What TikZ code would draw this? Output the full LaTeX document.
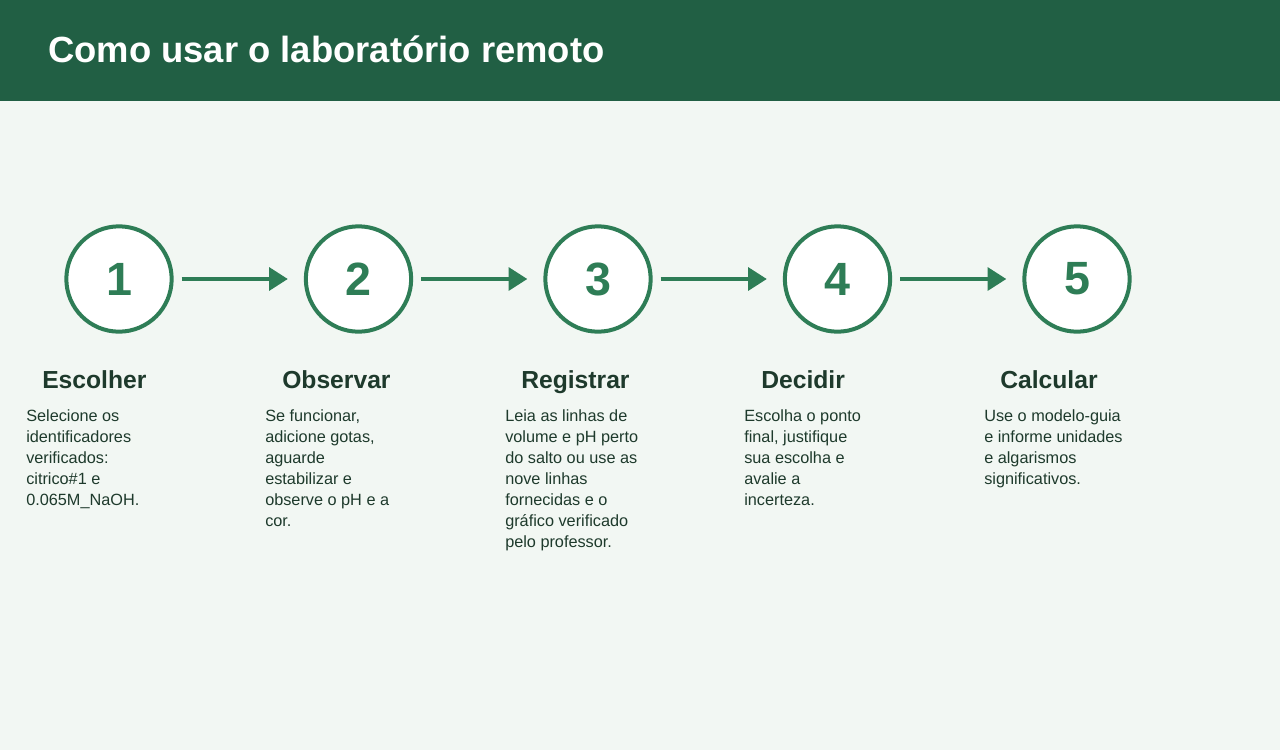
\documentclass[tikz,border=0pt]{standalone}
\usepackage{fontspec}
\setmainfont{Liberation Sans}
\usetikzlibrary{positioning, arrows.meta}
\definecolor{hdr}{HTML}{215F44}
\definecolor{bgc}{HTML}{F2F7F3}
\definecolor{grn}{HTML}{2E7D56}
\definecolor{ink}{HTML}{1E3A2C}
\tikzset{%
	stage/.style={draw=grn, line width=3pt, circle, fill=white, minimum size=79pt,%
		inner sep=0pt, text=grn, font=\fontsize{35}{35}\selectfont\bfseries},
	head/.style={anchor=base west, text=ink, inner sep=0pt, font=\fontsize{18.5}{20}\selectfont\bfseries},
	body/.style={anchor=north west, text=ink, inner sep=0pt, align=left,%
		font=\fontsize{12.2}{15.75}\selectfont},
	flow/.style={-{Triangle[length=14pt,width=17pt]}, draw=grn, line width=3pt}
}
\begin{document}
\begin{tikzpicture}[x=0.75pt, y=-0.75pt]
	\fill[bgc] (0,0) rectangle (1280,750);
	\fill[hdr] (0,0) rectangle (1280,101);
	\useasboundingbox (0,0) rectangle (1280,750);
	\node[anchor=west, text=white, inner sep=0pt, font=\fontsize{27.3}{30}\selectfont\bfseries]
		(title) at (48,49) {Como usar o laboratório remoto};
	% stages
	\node[stage] (s1) at (119,279) {1};
	\node[stage] (s2) at (358.5,279) {2};
	\node[stage] (s3) at (598,279) {3};
	\node[stage] (s4) at (837.5,279) {4};
	\node[stage] (s5) at (1077,279) {5};
	\foreach \a/\b in {s1/s2, s2/s3, s3/s4, s4/s5}
		\draw[flow] ([xshift=6pt]\a.east) -- ([xshift=-12pt]\b.west);
	% titles
	\node[head] (h1) at (42,388) {Escolher};
	\node[head] (h2) at (282,388) {Observar};
	\node[head] (h3) at (521,388) {Registrar};
	\node[head] (h4) at (761,388) {Decidir};
	\node[head] (h5) at (1000,388) {Calcular};
	% texts
	\node[body] (t1) at (26,409) {Selecione os\\identificadores\\verificados:\\citrico\#1 e\\0.065M\_NaOH.};
	\node[body] (t2) at (265,409) {Se funcionar,\\adicione gotas,\\aguarde\\estabilizar e\\observe o pH e a\\cor.};
	\node[body] (t3) at (505,409) {Leia as linhas de\\volume e pH perto\\do salto ou use as\\nove linhas\\fornecidas e o\\gráfico verificado\\pelo professor.};
	\node[body] (t4) at (744,409) {Escolha o ponto\\final, justifique\\sua escolha e\\avalie a\\incerteza.};
	\node[body] (t5) at (984,409) {Use o modelo-guia\\e informe unidades\\e algarismos\\significativos.};
\end{tikzpicture}
\end{document}
